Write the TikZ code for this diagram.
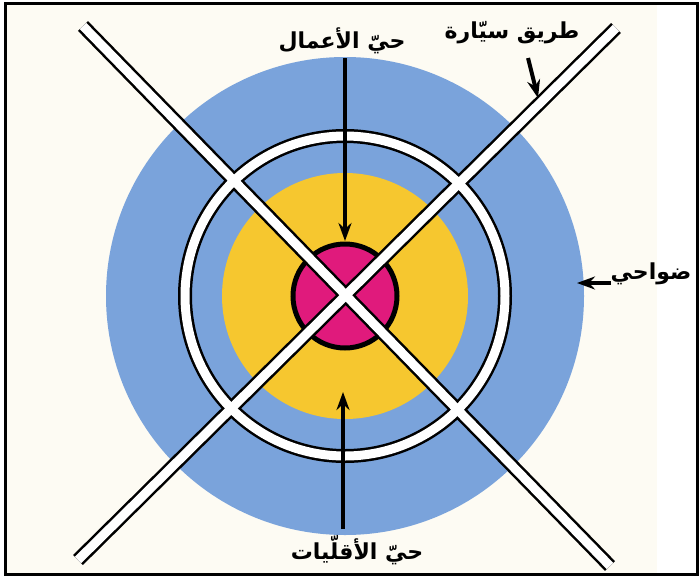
\documentclass[tikz,border=0pt]{standalone}
\usepackage{fontspec}
\newfontfamily\arabicfont[Script=Arabic]{DejaVu Sans}
\TeXXeTstate=1
\usetikzlibrary{arrows.meta}
\definecolor{cream}{HTML}{FDFBF3}
\definecolor{sky}{HTML}{7AA3DB}
\definecolor{sun}{HTML}{F6C72F}
\definecolor{rose}{HTML}{E01A7C}
\tikzset{
  lbl/.style={font=\arabicfont\bfseries\fontsize{22}{26}\selectfont, inner sep=0pt},
  ptr/.style={line width=4pt, -{Stealth[length=18pt,width=13pt]}},
  roadout/.style={line width=14pt, black},
  roadin/.style={line width=9pt, white}
}
\begin{document}
\begin{tikzpicture}[x=1pt,y=-1pt]
\useasboundingbox (0,0) rectangle (699,576);
\fill[cream] (6,3) rectangle (657,574);
\fill[white] (657,3) rectangle (697,574);
\coordinate (c) at (345,296);
\fill[sky] (c) circle (239pt);
\fill[sun] (c) circle (123pt);
\draw[fill=rose, line width=5pt] (c) circle (52pt);
\coordinate (r1a) at (83,26);
\coordinate (r1b) at (610,566);
\coordinate (r2a) at (616,28);
\coordinate (r2b) at (78,560);
\draw[roadout] (r1a) -- (r1b);
\draw[roadout] (r2a) -- (r2b);
\draw[roadout] (c) circle (160pt);
\draw[roadin] (r1a) -- (r1b);
\draw[roadin] (r2a) -- (r2b);
\draw[roadin] (c) circle (160pt);
% labels
\node[lbl] (biz) at (342,41) {\beginR حيّ الأعمال\endR};
\coordinate (bizfrom) at (345,58);
\coordinate (bizto) at (345,241);
\draw[ptr] (bizfrom) -- (bizto);
\node[lbl] (min) at (357,550) {\beginR حيّ الأقلّيات\endR};
\coordinate (minfrom) at (343,529);
\coordinate (minto) at (343,392);
\draw[ptr] (minfrom) -- (minto);
\node[lbl] (hwy) at (512,33) {\beginR طريق سيّارة\endR};
\coordinate (hwyfrom) at (528,58);
\coordinate (hwyto) at (538,98);
\draw[ptr] (hwyfrom) -- (hwyto);
\node[lbl] (sub) at (651,274) {\beginR ضواحي\endR};
\coordinate (subfrom) at (611,283);
\coordinate (subto) at (577,283);
\draw[ptr] (subfrom) -- (subto);
\draw[line width=3pt] (5.5,3) rectangle (697,574.5);
\end{tikzpicture}
\end{document}
